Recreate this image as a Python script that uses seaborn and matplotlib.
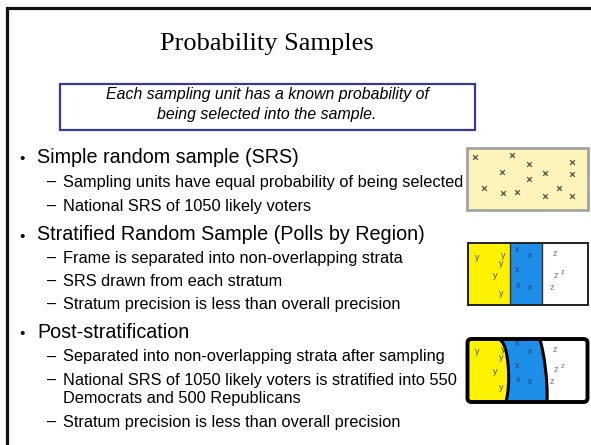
import matplotlib
matplotlib.use("Agg")
from matplotlib import pyplot as plt
from matplotlib.patches import Rectangle, FancyBboxPatch, PathPatch
from matplotlib.path import Path
import seaborn as sns
import pandas as pd

# slide text
title = "Probability Samples"
definition = ["Each sampling unit has a known probability of",
              "being selected into the sample."]
level1 = ["Simple random sample (SRS)",
          "Stratified Random Sample (Polls by Region)",
          "Post-stratification"]
level1_y = [163, 240.5, 338]
level2 = ["Sampling units have equal probability of being selected",
          "National SRS of 1050 likely voters",
          "Frame is separated into non-overlapping strata",
          "SRS drawn from each stratum",
          "Stratum precision is less than overall precision",
          "Separated into non-overlapping strata after sampling",
          "National SRS of 1050 likely voters is stratified into 550",
          "Stratum precision is less than overall precision"]
level2_y = [186.5, 210.5, 262.5, 286, 309, 361.5, 385, 427]
wrap_text = "Democrats and 500 Republicans"
wrap_y = 403.5

# sampling units in the SRS picture
srs_x = [475, 512, 529, 572, 502, 545, 572, 529, 484, 503, 517, 559, 545, 572]
srs_y = [157, 155, 164, 162, 172, 173, 174, 179, 188, 193, 192, 188, 196, 196]

# strata letters (offsets from the icon's top)
y_pts = [(477, 14), (503, 12), (501, 20), (495, 33), (501, 50)]
x_pts = [(517, 6), (530, 13), (517, 27), (518, 42), (530, 44)]
z_pts = [(555, 11), (556, 32), (552, 44)]
z_sup = [(563, 29)]

sns.set_theme(style="white")
plt.rcParams['font.family'] = ['Liberation Sans', 'DejaVu Sans']

fig = plt.figure(figsize=(5.91, 4.45), dpi=100)
ax = fig.add_axes([0, 0, 1, 1])
ax.set_xlim(0, 591)
ax.set_ylim(445, 0)
ax.axis('off')

# slide frame (cut off at the right and bottom)
ax.plot([6.5, 6.5, 591], [445, 8, 8], color='#111111', lw=2.3, solid_joinstyle='miter')

ax.text(267, 50, title, ha='center', va='baseline', fontsize=19,
        family='Liberation Serif', color='black')

ax.add_patch(Rectangle((60, 84), 415, 46, fill=False, ec='#3a3a96', lw=1.6))
ax.text(267, 99.5, definition[0], ha='center', va='baseline', fontsize=11.4,
        style='italic', color='black')
ax.text(267, 119.5, definition[1], ha='center', va='baseline', fontsize=11.4,
        style='italic', color='black')

for t, yy in zip(level1, level1_y):
    ax.text(19, yy, "\u2022", ha='left', va='baseline', fontsize=11, color='black')
    ax.text(37, yy, t, ha='left', va='baseline', fontsize=14.2, color='black')
for t, yy in zip(level2, level2_y):
    ax.text(47, yy, "\u2013", ha='left', va='baseline', fontsize=11.8, color='black')
    ax.text(63, yy, t, ha='left', va='baseline', fontsize=11.8, color='black')
ax.text(63, wrap_y, wrap_text, ha='left', va='baseline', fontsize=11.8, color='black')

# SRS picture
ax.add_patch(Rectangle((467, 148), 121, 62, fc='#fdf4bb', ec='#a4a4a4', lw=2))
srs = pd.DataFrame({'x': srs_x, 'y': srs_y})
sns.scatterplot(data=srs, x='x', y='y', marker='x', s=12, color='#55554a',
                linewidth=0.9, ax=ax, legend=False)
ax.set_xlim(0, 591)
ax.set_ylim(445, 0)
ax.set_xlabel('')
ax.set_ylabel('')


def letters(top, yc='#5a5a20', xc='#2d3d6a', zc='#7a7a7a'):
    for px, dy in y_pts:
        ax.text(px, top + dy, 'y', ha='center', va='center', fontsize=6.5, color=yc)
    for px, dy in x_pts:
        ax.text(px, top + dy, 'x', ha='center', va='center', fontsize=6.5, color=xc)
    for px, dy in z_pts:
        ax.text(px, top + dy, 'z', ha='center', va='center', fontsize=6.5, color=zc)
    for px, dy in z_sup:
        ax.text(px, top + dy, 'z', ha='center', va='center', fontsize=5.5, color=zc)


# stratified picture
top2 = 243
ax.add_patch(Rectangle((468, top2), 42, 62, fc='#fff200', ec='none'))
ax.add_patch(Rectangle((510, top2), 32, 62, fc='#1d8fe8', ec='none'))
ax.add_patch(Rectangle((542, top2), 46, 62, fc='white', ec='none'))
ax.plot([510, 510], [top2, top2 + 62], color='#333333', lw=1)
ax.plot([542, 542], [top2, top2 + 62], color='#333333', lw=1)
ax.add_patch(Rectangle((468, top2), 120, 62, fill=False, ec='#222222', lw=1.4))
letters(top2)

# post-stratification picture
top3 = 338
yellow = Path([(469, 340), (500, 340), (509, 344), (511, 386), (506, 401),
               (469, 401), (469, 340)],
              [Path.MOVETO, Path.LINETO, Path.CURVE4, Path.CURVE4, Path.CURVE4,
               Path.LINETO, Path.CLOSEPOLY])
blue = Path([(500, 340), (540, 340), (544, 352), (548, 382), (547, 401),
             (506, 401), (511, 386), (509, 344), (500, 340)],
            [Path.MOVETO, Path.LINETO, Path.CURVE4, Path.CURVE4, Path.CURVE4,
             Path.LINETO, Path.CURVE4, Path.CURVE4, Path.CURVE4])
ax.add_patch(FancyBboxPatch((467.5, 339), 120, 63, boxstyle='round,pad=0,rounding_size=4',
                            fc='white', ec='none'))
ax.add_patch(PathPatch(yellow, fc='#fff200', ec='none'))
ax.add_patch(PathPatch(blue, fc='#1d8fe8', ec='none'))
ax.add_patch(PathPatch(Path([(500, 340), (509, 344), (511, 386), (506, 401)],
                            [Path.MOVETO, Path.CURVE4, Path.CURVE4, Path.CURVE4]),
                       fill=False, ec='black', lw=2.2))
ax.add_patch(PathPatch(Path([(540, 340), (544, 352), (548, 382), (547, 401)],
                            [Path.MOVETO, Path.CURVE4, Path.CURVE4, Path.CURVE4]),
                       fill=False, ec='black', lw=2.2))
ax.add_patch(FancyBboxPatch((467.5, 339), 120, 63, boxstyle='round,pad=0,rounding_size=4',
                            fill=False, ec='black', lw=2.8))
letters(top3)

fig.savefig('out.png', dpi=100)
